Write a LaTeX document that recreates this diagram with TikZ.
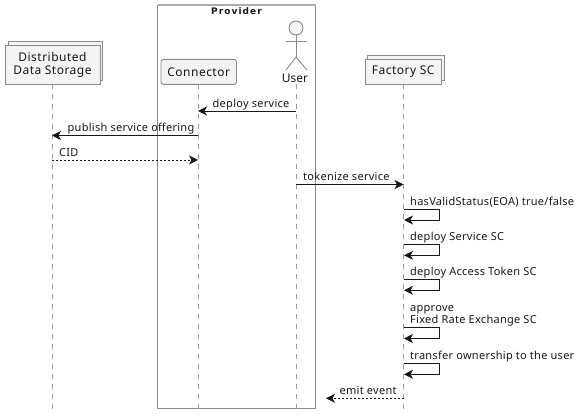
\documentclass[tikz,border=0pt]{standalone}
\usepackage{fontspec}
\setmainfont{Noto Sans}
\newfontfamily\provfont[LetterSpace=12]{DejaVu Sans}
\newfontfamily\msgfont[LetterSpace=2.5]{Noto Sans}
\newfontfamily\partfont[LetterSpace=4]{Noto Sans}
\usetikzlibrary{arrows.meta}
\definecolor{boxfill}{HTML}{F4F4F4}
\definecolor{boxline}{HTML}{8A8A8A}
\definecolor{lifeln}{HTML}{9A9A9A}
\definecolor{ink}{HTML}{181818}
\tikzset{
  x=1pt,y=-1pt,
  txt/.style={font=\fontsize{11}{13.2}\msgfont,text=ink,inner sep=0pt},
  msglabel/.style={txt,anchor=base west},
  part/.style={draw=boxline,fill=boxfill,line width=0.9pt,inner sep=0pt,font=\fontsize{12}{14.5}\partfont,text=ink,align=center},
  collbox/.style={draw=boxline,fill=boxfill,line width=0.9pt},
  life/.style={draw=lifeln,line width=0.9pt,dash pattern=on 5pt off 5pt},
  msg/.style={draw=ink,line width=0.9pt,-{Stealth[length=9pt,width=9pt,inset=2.5pt]}},
  dotmsg/.style={msg,dash pattern=on 2pt off 2pt},
  actorline/.style={draw=boxline,line width=0.9pt},
  group/.style={draw=boxline,line width=0.9pt}
}
\begin{document}
\begin{tikzpicture}
\useasboundingbox (0,0) rectangle (581,419);
% group box
\draw[group] (157.5,5) rectangle (315.5,408.5);
\draw[draw=lightgray!90!black,line width=1.4pt] (157.5,5) -- (315.5,5);
\node[txt,font=\fontsize{9}{11}\provfont\bfseries,anchor=center] (prov) at (236.5,11.5) {Provider};
% lifeline ends
\coordinate (dsEnd) at (52,414);
\coordinate (coEnd) at (198,414);
\coordinate (usEnd) at (296,414);
\coordinate (faEnd) at (403.5,414);
% lifelines
\coordinate (dsTop) at (52,84);
\coordinate (coTop) at (198,84);
\coordinate (usTop) at (296,84);
\coordinate (faTop) at (403.5,84);
\draw[life] (dsTop) -- (dsEnd);
\draw[life] (coTop) -- (coEnd);
\draw[life] (usTop) -- (usEnd);
\draw[life] (faTop) -- (faEnd);
% participants
\draw[collbox] (8,41.5) rectangle (102.5,80.5);
\node[part,minimum width=95pt,minimum height=39pt,anchor=north west] (ds) at (4.5,45) {Distributed\\[-1pt]Data Storage};
\node[part,rounded corners=2.5pt,minimum width=75.5pt,minimum height=25pt,anchor=north west] (co) at (160.5,59) {Connector};
\draw[collbox] (367.5,55.5) rectangle (444.5,80.5);
\node[part,minimum width=76.5pt,minimum height=25pt,anchor=north west] (fa) at (364.5,59) {Factory SC};
% actor
\node[circle,draw=boxline,fill=boxfill,line width=0.9pt,minimum size=14pt,inner sep=0pt] (head) at (296,28) {};
\coordinate (hip) at (296,57);
\coordinate (armL) at (286,41);
\coordinate (armR) at (307,41);
\coordinate (legL) at (286,70);
\coordinate (legR) at (307,70);
\draw[actorline] (head.south) -- (hip);
\draw[actorline] (armL) -- (armR);
\draw[actorline] (legL) -- (hip) -- (legR);
\node[txt,font=\fontsize{12}{14.5}\selectfont,anchor=base] (us) at (295,83) {User};
% messages
\foreach \n/\y in {m1/111,m2/135.5,m3/160,m4/184.5,m10/398.3}{\coordinate (\n) at (0,\y);}
\draw[msg] (usTop |- m1) -- (coTop |- m1);
\node[msglabel] (l1) at (212.5,107.5) {deploy service};
\draw[msg] (coTop |- m2) -- (dsTop |- m2);
\node[msglabel] (l2) at (67.5,132) {publish service offering};
\draw[dotmsg] (dsTop |- m3) -- (coTop |- m3);
\node[msglabel] (l3) at (59,156.5) {CID};
\draw[msg] (usTop |- m4) -- (faTop |- m4);
\node[msglabel] (l4) at (303,181) {tokenize service};
% self messages
\foreach \nm/\ya/\yb in {s1/209/220,s2/244.3/255.3,s3/279.3/290.3,s4/327.5/338.5,s5/363.3/374.3}{
  \coordinate (\nm a) at (404,\ya);
  \coordinate (\nm b) at (439.5,\ya);
  \coordinate (\nm c) at (439.5,\yb);
  \coordinate (\nm d) at (404,\yb);
  \draw[msg] (\nm a) -- (\nm b) -- (\nm c) -- (\nm d);
}
\node[msglabel] (l5) at (410,205.5) {hasValidStatus(EOA) true/false};
\node[msglabel] (l6) at (410,240.5) {deploy Service SC};
\node[msglabel] (l7) at (410,275.5) {deploy Access Token SC};
\node[msglabel] (l8a) at (410,311.5) {approve};
\node[msglabel] (l8b) at (410,324) {Fixed Rate Exchange SC};
\node[msglabel] (l9) at (410,359.5) {transfer ownership to the user};
\coordinate (emitEnd) at (326,398.3);
\draw[dotmsg] (faTop |- m10) -- (emitEnd);
\node[msglabel] (l10) at (339.5,394.5) {emit event};
\end{tikzpicture}
\end{document}
